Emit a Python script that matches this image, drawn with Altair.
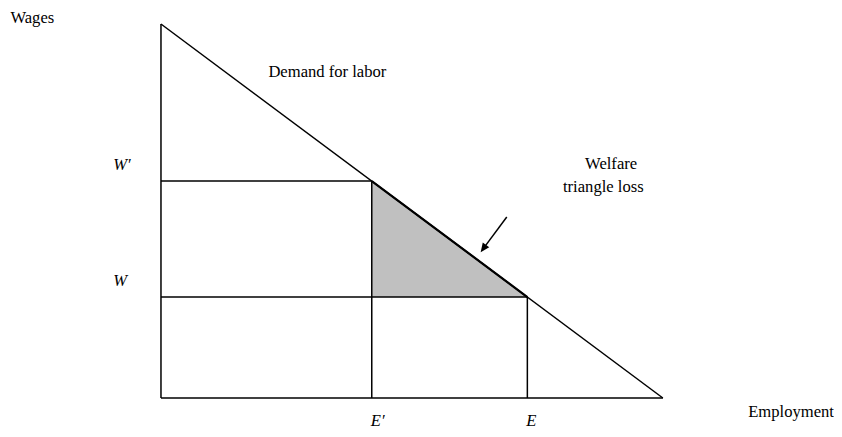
import altair as alt
import pandas as pd

# Economic values (data units: employment 0..10, wages 0..10)
demand_x = [0, 10]
demand_y = [10, 0]
E_prime, W_prime = 4.2, 5.8
E_val, W_val = 7.3, 2.7

FONT = "Liberation Serif"
FS = 16.6

xs = alt.Scale(domain=[-3.048, 13.41], nice=False, zero=False)
ys = alt.Scale(domain=[-0.829, 10.428], nice=False, zero=False)

def X(f="x"):
    return alt.X(f"{f}:Q", scale=xs, axis=None)

def Y(f="y"):
    return alt.Y(f"{f}:Q", scale=ys, axis=None)

# segments
segs = pd.DataFrame([
    dict(x=0, y=0, x2=0, y2=10),                      # y axis
    dict(x=0, y=0, x2=10, y2=0),                      # x axis
    dict(x=0, y=W_prime, x2=E_prime, y2=W_prime),     # W' line
    dict(x=0, y=W_val, x2=E_val, y2=W_val),           # W line
    dict(x=E_prime, y=0, x2=E_prime, y2=W_prime),     # E' line
    dict(x=E_val, y=0, x2=E_val, y2=W_val),           # E line
])
rules = alt.Chart(segs).mark_rule(color="black", strokeWidth=1.5).encode(
    x=X(), y=Y(), x2="x2:Q", y2="y2:Q")

demand = alt.Chart(pd.DataFrame({"x": demand_x, "y": demand_y})).mark_line(
    color="black", strokeWidth=1.5).encode(x=X(), y=Y())

tri = alt.Chart(pd.DataFrame({"x": [E_prime, E_val], "y": [W_prime, W_val],
                              "y2": [W_val, W_val]})).mark_area(
    color="#c0c0c0", opacity=1).encode(x=X(), y=Y(), y2="y2:Q")
tri_edge = alt.Chart(pd.DataFrame({"x": [E_prime, E_val], "y": [W_prime, W_val]})).mark_line(
    color="black", strokeWidth=2.2).encode(x=X(), y=Y())

# arrow
arrow_tail = (6.89, 4.84)
arrow_tip = (6.37, 3.90)
arrow_line = alt.Chart(pd.DataFrame({"x": [arrow_tail[0], 6.47], "y": [arrow_tail[1], 4.08]})).mark_line(
    color="black", strokeWidth=1.5).encode(x=X(), y=Y())
arrow_head = alt.Chart(pd.DataFrame({"x": [arrow_tip[0]], "y": [arrow_tip[1]]})).mark_point(
    shape="M0,0 L-0.45,1 L0.45,1 Z", filled=True, color="black", opacity=1,
    size=320, angle=216.6).encode(x=X(), y=Y())

# labels
labels_text = ["Wages", "Demand for labor", "Welfare", "triangle loss", "Employment"]
labels_x = [-3.0, 2.14, 8.45, 8.01, 11.7]
labels_y = [10.02, 8.58, 6.13, 5.5, -0.52]
lab = alt.Chart(pd.DataFrame({"t": labels_text, "x": labels_x, "y": labels_y})).mark_text(
    align="left", baseline="alphabetic", font=FONT, fontSize=FS, color="black").encode(
    x=X(), y=Y(), text="t:N")

ital_text = ["W\u2032", "W", "E\u2032", "E"]
ital_x = [-0.95, -0.95, E_prime - 0.02, E_val - 0.02]
ital_y = [W_prime + 0.3, W_val + 0.3, -0.75, -0.75]
ital = alt.Chart(pd.DataFrame({"t": ital_text, "x": ital_x, "y": ital_y})).mark_text(
    align="left", baseline="alphabetic", font=FONT, fontSize=FS, fontStyle="italic",
    color="black").encode(x=X(), y=Y(), text="t:N")

chart = alt.layer(tri, rules, demand, tri_edge, arrow_line, arrow_head, lab, ital).properties(
    width=826, height=421, padding=0, background="white",
    autosize=alt.AutoSizeParams(type="none")
).configure_view(stroke=None, strokeWidth=0)

chart.save("out.html", embed_options={"renderer": "svg", "actions": False})
